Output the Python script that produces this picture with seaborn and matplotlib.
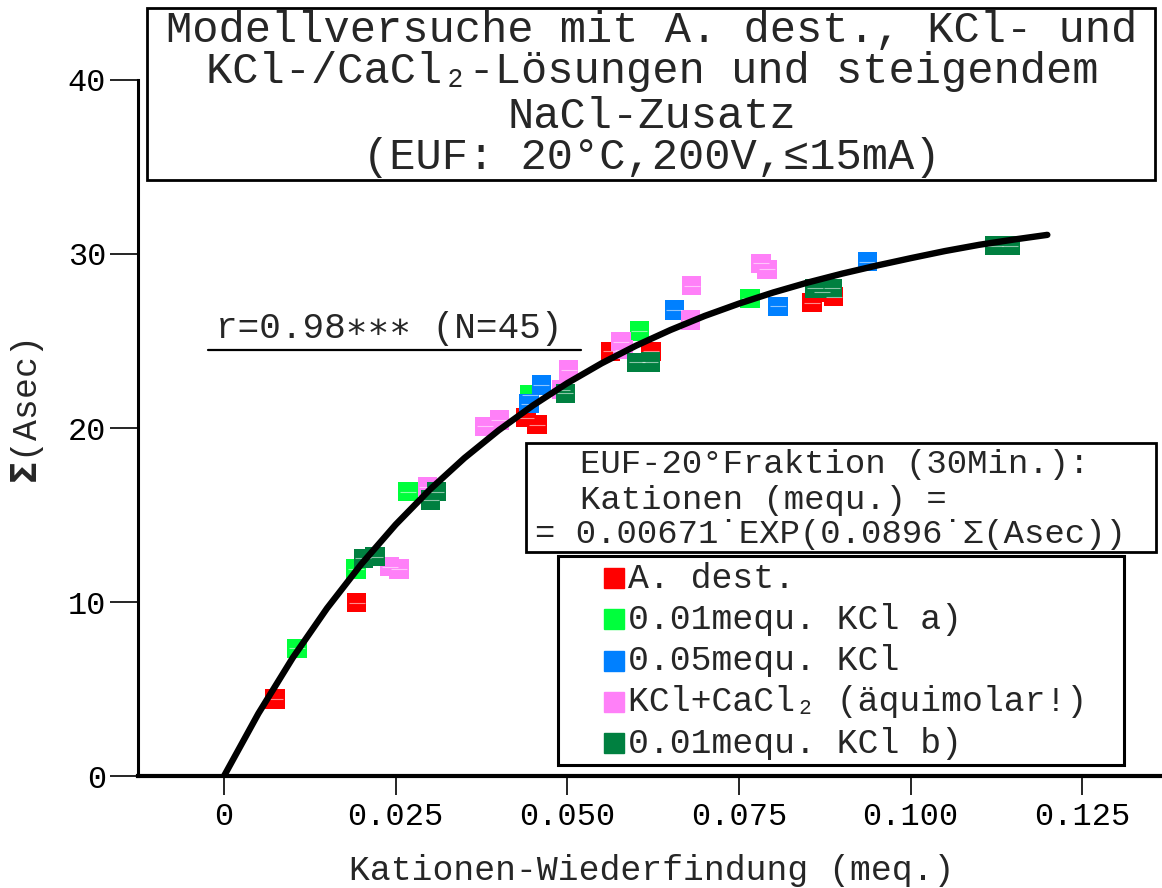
import numpy as np
import pandas as pd
import matplotlib
matplotlib.use("Agg")
import matplotlib.pyplot as plt
import seaborn as sns
from matplotlib.patches import Rectangle
from matplotlib.lines import Line2D

# ---------------- data ----------------
groups = ["A. dest.", "0.01mequ. KCl a)", "0.05mequ. KCl",
          "KCl+CaCl₂ (äquimolar!)", "0.01mequ. KCl b)"]
colors = ["#ff0000", "#00ff3c", "#0080ff", "#ff80f8", "#008040"]

red_x = [0.0074, 0.0193, 0.0440, 0.0456, 0.0563, 0.0622, 0.0856, 0.0871, 0.0888]
red_y = [4.43, 9.96, 20.6, 20.2, 24.4, 24.4, 27.2, 27.8, 27.55]
green_x = [0.0106, 0.0192, 0.0268, 0.0445, 0.0605, 0.0766]
green_y = [7.34, 11.9, 16.34, 21.9, 25.57, 27.45]
blue_x = [0.0444, 0.0462, 0.0656, 0.0807, 0.0937]
blue_y = [21.4, 22.47, 26.78, 27.0, 29.56]
pink_x = [0.0241, 0.0255, 0.0296, 0.0380, 0.0401, 0.0492, 0.0502, 0.0578,
          0.0581, 0.0679, 0.0681, 0.0782, 0.0791]
pink_y = [12.03, 11.9, 16.63, 20.1, 20.46, 22.2, 23.33, 24.96, 24.5, 26.2,
          28.18, 29.46, 29.12]
dgreen_x = [0.0203, 0.0220, 0.0301, 0.0309, 0.0497, 0.0601, 0.0621, 0.0860,
            0.0886, 0.1123, 0.1145]
dgreen_y = [12.51, 12.6, 15.86, 16.34, 22.0, 23.78, 23.8, 28.03, 28.03, 30.48, 30.48]

# fitted curve at regular steps
curve_x = [0.000, 0.005, 0.010, 0.015, 0.020, 0.025, 0.030, 0.035, 0.040,
           0.045, 0.050, 0.055, 0.060, 0.065, 0.070, 0.075, 0.080, 0.085,
           0.090, 0.095, 0.100, 0.105, 0.110, 0.115, 0.1199]
curve_y = [0.0, 3.59, 6.79, 9.64, 12.18, 14.45, 16.47, 18.27, 19.87,
           21.30, 22.58, 23.72, 24.73, 25.63, 26.44, 27.15, 27.79, 28.36,
           28.87, 29.33, 29.76, 30.17, 30.53, 30.83, 31.1]

xticks = [0, 0.025, 0.050, 0.075, 0.100, 0.125]
xticklabels = ["0", "0.025", "0.050", "0.075", "0.100", "0.125"]
yticks = [0, 10, 20, 30, 40]
yticklabels = ["0", "10", "20", "30", "40"]

# ---------------- build frame ----------------
all_x = [red_x, green_x, blue_x, pink_x, dgreen_x]
all_y = [red_y, green_y, blue_y, pink_y, dgreen_y]
rows = []
for g, xs, ys in zip(groups, all_x, all_y):
    for a, b in zip(xs, ys):
        rows.append({"x": a, "y": b, "group": g})
df = pd.DataFrame(rows)

sns.set_theme(style="white")
plt.rcParams['font.family'] = ['Liberation Mono', 'DejaVu Sans Mono', 'DejaVu Sans']

W, H = 1162, 888
fig = plt.figure(figsize=(W / 100, H / 100), dpi=100)
fig.patch.set_facecolor("white")

def fx(px):
    return px / W

def fy(py):
    return 1 - py / H

ax = fig.add_axes([fx(138), fy(776), 1 - fx(138), fy(80) - fy(776)])
ax.set_facecolor("white")

sns.scatterplot(data=df, x="x", y="y", hue="group", hue_order=groups,
                palette=colors, marker="s", s=195, linewidth=0,
                legend=False, ax=ax, zorder=2)
# faint light lines inside the squares, as in the reference rendering
sns.scatterplot(data=df, x="x", y="y", color="white", marker="_", s=120,
                linewidth=0.8, alpha=0.55, legend=False, ax=ax, zorder=2.5)
sns.lineplot(x=curve_x, y=curve_y, color="black", linewidth=4.6, ax=ax,
             zorder=3, sort=False, estimator=None)

ax.set_xlim(-0.01253, 0.1366)
ax.set_ylim(0, 40)
ax.set_xticks(xticks)
ax.set_xticklabels(xticklabels)
ax.set_yticks(yticks)
ax.set_yticklabels(yticklabels)
ax.set_xlabel("")
ax.set_ylabel("")

for s in ["top", "right"]:
    ax.spines[s].set_visible(False)
ax.spines["left"].set_color("black")
ax.spines["left"].set_linewidth(2.2)
ax.spines["bottom"].set_color("black")
ax.spines["bottom"].set_linewidth(3)
ax.tick_params(axis="x", bottom=True, direction="out", length=14, width=1.2,
               labelsize=23, pad=5, colors="black")
ax.tick_params(axis="y", left=True, direction="out", length=20, width=1.2,
               labelsize=23, pad=3, colors="black")
ax.grid(False)

# axis titles
fig.text(fx(652), fy(870), "Kationen-Wiederfindung (meq.)", ha="center",
         va="center", fontsize=25)
fig.text(fx(27), fy(412), r"$\mathbf{\Sigma}$(Asec)", ha="center", va="center",
         fontsize=25, rotation=90)

# title box
fig.add_artist(Rectangle((fx(147), fy(180)), fx(1155) - fx(147), fy(8) - fy(180),
                         transform=fig.transFigure, facecolor="white",
                         edgecolor="black", linewidth=2, zorder=5))
title_lines = ["Modellversuche mit A. dest., KCl- und",
               "KCl-/CaCl₂-Lösungen und steigendem",
               "NaCl-Zusatz",
               "(EUF: 20°C,200V,≤15mA)"]
for t, yy in zip(title_lines, [31, 71, 116, 158]):
    fig.text(fx(652), fy(yy), t, ha="center", va="center", fontsize=31.5, zorder=6)

# correlation annotation
fig.text(fx(216), fy(328), "r=0.98∗∗∗ (N=45)", ha="left", va="center",
         fontsize=26, zorder=6)
fig.add_artist(Line2D([fx(208), fx(581)], [fy(350), fy(350)],
                      transform=fig.transFigure, color="black", linewidth=1.6))

# equation box
fig.add_artist(Rectangle((fx(526), fy(552)), fx(1156) - fx(526), fy(443) - fy(552),
                         transform=fig.transFigure, facecolor="white",
                         edgecolor="black", linewidth=2, zorder=5))
eq_lines = [(580, 464, "EUF-20°Fraktion (30Min.):"),
            (580, 500, "Kationen (mequ.) ="),
            (535, 535, "= 0.00671˙EXP(0.0896˙Σ(Asec))")]
for x0, y0, t in eq_lines:
    fig.text(fx(x0), fy(y0), t, ha="left", va="center", fontsize=24.5, zorder=6)

# legend box
fig.add_artist(Rectangle((fx(558), fy(765)), fx(1124) - fx(558), fy(556) - fy(765),
                         transform=fig.transFigure, facecolor="white",
                         edgecolor="black", linewidth=2.2, zorder=5))
for i, (g, c) in enumerate(zip(groups, colors)):
    yy = 578 + i * 41.3
    fig.add_artist(Line2D([fx(614)], [fy(yy)], transform=fig.transFigure,
                          marker="s", markersize=14, color=c, linestyle="none",
                          zorder=6))
    fig.text(fx(628), fy(yy), g, ha="left", va="center", fontsize=25, zorder=6)

fig.savefig("out.png", dpi=100)
